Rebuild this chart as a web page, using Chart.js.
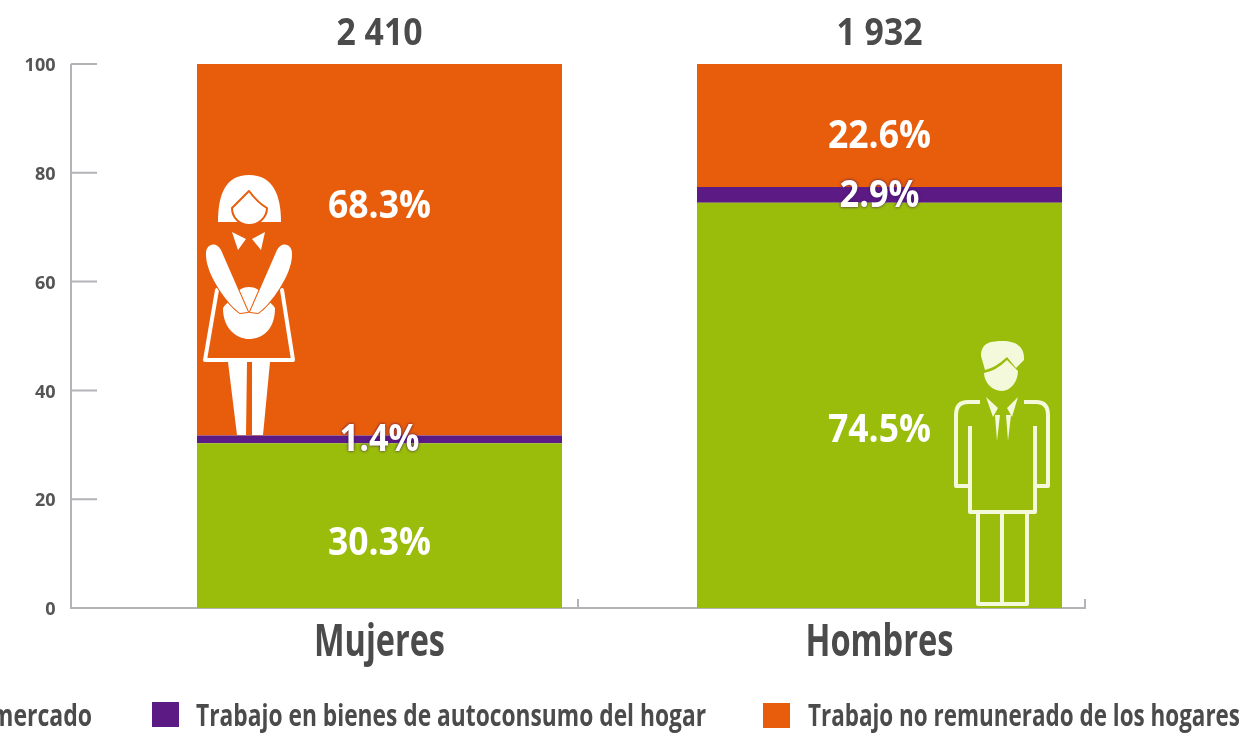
<!DOCTYPE html>
<html lang="es">
<head>
  <meta charset="UTF-8">
  <title>Trabajo por sexo</title>
  <script src="https://cdn.jsdelivr.net/npm/chart.js"></script>
  <style>
    html, body { margin: 0; padding: 0; background: #fff; overflow: hidden; }
    canvas { display: block; }
  </style>
</head>
<body>
  <canvas id="workChart" width="1246" height="734"></canvas>
  <script>
    const categories = ['Mujeres', 'Hombres'];
    const totals = ['2 410', '1 932'];
    const mercado = [30.3, 74.5];
    const autoconsumo = [1.4, 2.9];
    const noRemunerado = [68.3, 22.6];
    const yTicks = [0, 20, 40, 60, 80, 100];

    const GREEN = '#99bd0a';
    const PURPLE = '#5c1a85';
    const ORANGE = '#e85d0b';
    const GRAY = '#4b4b4b';
    const AXIS = '#b4b4b8';
    const FONT = '"Open Sans", sans-serif';

    // label offsets from the segment centre, the original does not centre them
    const labelShift = [[18, 25], [1, 1], [-43, 11]];

    // axis sits left of the bars, as in the original
    const axisPlugin = {
      id: 'axisLines',
      beforeDatasetsDraw(chart) {
        const { ctx } = chart;
        const y = chart.scales.y;
        const x0 = 71, x1 = 1085, base = y.getPixelForValue(0);
        ctx.save();
        ctx.strokeStyle = AXIS;
        ctx.lineWidth = 2;
        ctx.beginPath();
        ctx.moveTo(x0, y.getPixelForValue(100));
        ctx.lineTo(x0, base);
        ctx.lineTo(x1, base);
        ctx.lineTo(x1, base - 9);
        ctx.moveTo(578, base);
        ctx.lineTo(578, base - 9);
        yTicks.slice(1).forEach(t => {
          ctx.moveTo(x0, y.getPixelForValue(t));
          ctx.lineTo(97, y.getPixelForValue(t));
        });
        ctx.stroke();
        ctx.restore();
      }
    };

    function drawWoman(ctx) {
      ctx.save();
      ctx.fillStyle = '#fff';
      ctx.strokeStyle = '#fff';
      ctx.lineCap = 'round';
      ctx.lineJoin = 'round';
      ctx.fill(new Path2D('M218 222 C218 195 225 175 249 175 C273 175 281 195 281 222 Z'));
      const face = new Path2D('M232 208 L249 191 Q258 203 267 208 C267 218 258 225 249 225 C240 225 232 218 232 208 Z');
      ctx.fill(face);
      ctx.strokeStyle = ORANGE;
      ctx.lineWidth = 2;
      ctx.stroke(face);
      ctx.fill(new Path2D('M232 232 L246 239 L238 250 Z M265 232 L252 239 L261 250 Z'));
      ctx.strokeStyle = '#fff';
      ctx.lineWidth = 4;
      ctx.stroke(new Path2D('M217 290 L205 360 L293 360 L282 290'));
      ctx.fill(new Path2D('M223 308 C228 300 236 299 236 296 C238 284 260 284 262 296 C262 299 270 300 275 308 C275 330 262 339 249 339 C238 339 223 330 223 308 Z'));
      ctx.fill(new Path2D('M228 362 L247 362 L246 435 L237 435 Z M252 362 L270 362 L263 435 L252 435 Z'));
      const arms = new Path2D('M206 255 C205 243 217 241 221 250 L248 312 L240 313 C228 305 206 275 206 255 Z M292 255 C293 243 281 241 277 250 L250 312 L258 313 C270 305 292 275 292 255 Z');
      ctx.strokeStyle = ORANGE;
      ctx.lineWidth = 2;
      ctx.stroke(arms);
      ctx.fill(arms);
      ctx.restore();
    }

    function drawMan(ctx) {
      ctx.save();
      ctx.fillStyle = '#f5f9dc';
      ctx.strokeStyle = '#f5f9dc';
      ctx.lineWidth = 4;
      ctx.lineJoin = 'round';
      ctx.fill(new Path2D('M981 356 C981 342 992 341 1003 341 C1016 341 1025 347 1024 360 L1016 368 L1007 357 Q995 368 985 370 Z'));
      ctx.fill(new Path2D('M984 373 Q996 371 1007 360 L1018 371 C1018 382 1010 391 1002 391 C992 391 984 382 984 373 Z'));
      ctx.fill(new Path2D('M986 397 L998 408 L993 417 Z M1018 397 L1007 408 L1012 417 Z'));
      ctx.fill(new Path2D('M995 415 L1000 415 L997 441 Z M1006 415 L1011 415 L1008 441 Z'));
      ctx.stroke(new Path2D('M980 402 L968 402 Q956 402 956 415 L956 486 L970 486'));
      ctx.stroke(new Path2D('M1024 402 L1036 402 Q1048 402 1048 415 L1048 486 L1035 486'));
      ctx.stroke(new Path2D('M970 426 L970 512 L1035 512 L1035 426'));
      ctx.stroke(new Path2D('M978 512 L978 604 L1027 604 L1027 512 M1002 512 L1002 604'));
      ctx.restore();
    }

    const annotationPlugin = {
      id: 'annotations',
      afterDatasetsDraw(chart) {
        const { ctx } = chart;
        drawWoman(ctx);
        drawMan(ctx);

        ctx.save();
        ctx.textAlign = 'center';
        ctx.textBaseline = 'middle';
        chart.data.datasets.forEach((ds, d) => {
          chart.getDatasetMeta(d).data.forEach((bar, i) => {
            ctx.save();
            ctx.font = 'bold ' + (d === 1 ? 38 : 40) + 'px ' + FONT;
            ctx.fillStyle = '#fff';
            if (d === 1) {
              ctx.shadowColor = '#3c0f5c';
              ctx.shadowBlur = 3;
            }
            const mid = (bar.y + bar.base) / 2;
            ctx.fillText(ds.data[i].toFixed(1) + '%', bar.x, mid + labelShift[d][i], d === 1 ? 80 : 103);
            ctx.restore();
          });
        });

        // Open Sans is wider than the original face, so squeeze with maxWidth
        ctx.fillStyle = GRAY;
        ctx.font = 'bold 38px ' + FONT;
        chart.getDatasetMeta(0).data.forEach((bar, i) => {
          ctx.fillText(totals[i], bar.x, 34, 86);
        });

        ctx.font = 'bold 44px ' + FONT;
        const catWidths = [131, 148];
        chart.getDatasetMeta(0).data.forEach((bar, i) => {
          ctx.fillText(categories[i], bar.x, 643, catWidths[i]);
        });

        // legend, the first entry runs off the left edge in the original
        ctx.font = 'bold 30px ' + FONT;
        ctx.textAlign = 'left';
        ctx.fillStyle = PURPLE;
        ctx.fillRect(152, 702, 27, 25);
        ctx.fillStyle = ORANGE;
        ctx.fillRect(763, 703, 27, 25);
        ctx.fillStyle = GRAY;
        ctx.fillText(chart.data.datasets[1].label, 196, 717, 510);
        ctx.fillText(chart.data.datasets[2].label, 808, 717, 432);
        ctx.textAlign = 'right';
        ctx.fillText(chart.data.datasets[0].label, 92, 717, 280);
        ctx.restore();
      }
    };

    new Chart(document.getElementById('workChart'), {
      type: 'bar',
      data: {
        labels: categories,
        datasets: [
          { label: 'Trabajo para el mercado', data: mercado, backgroundColor: GREEN },
          { label: 'Trabajo en bienes de autoconsumo del hogar', data: autoconsumo, backgroundColor: PURPLE },
          { label: 'Trabajo no remunerado de los hogares', data: noRemunerado, backgroundColor: ORANGE }
        ]
      },
      options: {
        responsive: false,
        animation: false,
        layout: { padding: { top: 64, right: 116.5, bottom: 0, left: 0 } },
        datasets: { bar: { barPercentage: 0.73, categoryPercentage: 1 } },
        plugins: { legend: { display: false }, tooltip: { enabled: false } },
        scales: {
          x: {
            stacked: true,
            grid: { display: false },
            border: { display: false },
            ticks: { display: false },
            afterFit(scale) { scale.height = 126; }
          },
          y: {
            stacked: true,
            min: 0,
            max: 100,
            afterBuildTicks(scale) { scale.ticks = yTicks.map(v => ({ value: v })); },
            grid: { display: false },
            border: { display: false },
            ticks: { color: '#555', padding: 66, labelOffset: 2, font: { family: FONT, size: 18, weight: 'bold' } },
            afterFit(scale) {
              scale.width = 129.5;
              scale.paddingTop = 0;
              scale.paddingBottom = 0;
            }
          }
        }
      },
      plugins: [axisPlugin, annotationPlugin]
    });
  </script>
</body>
</html>
